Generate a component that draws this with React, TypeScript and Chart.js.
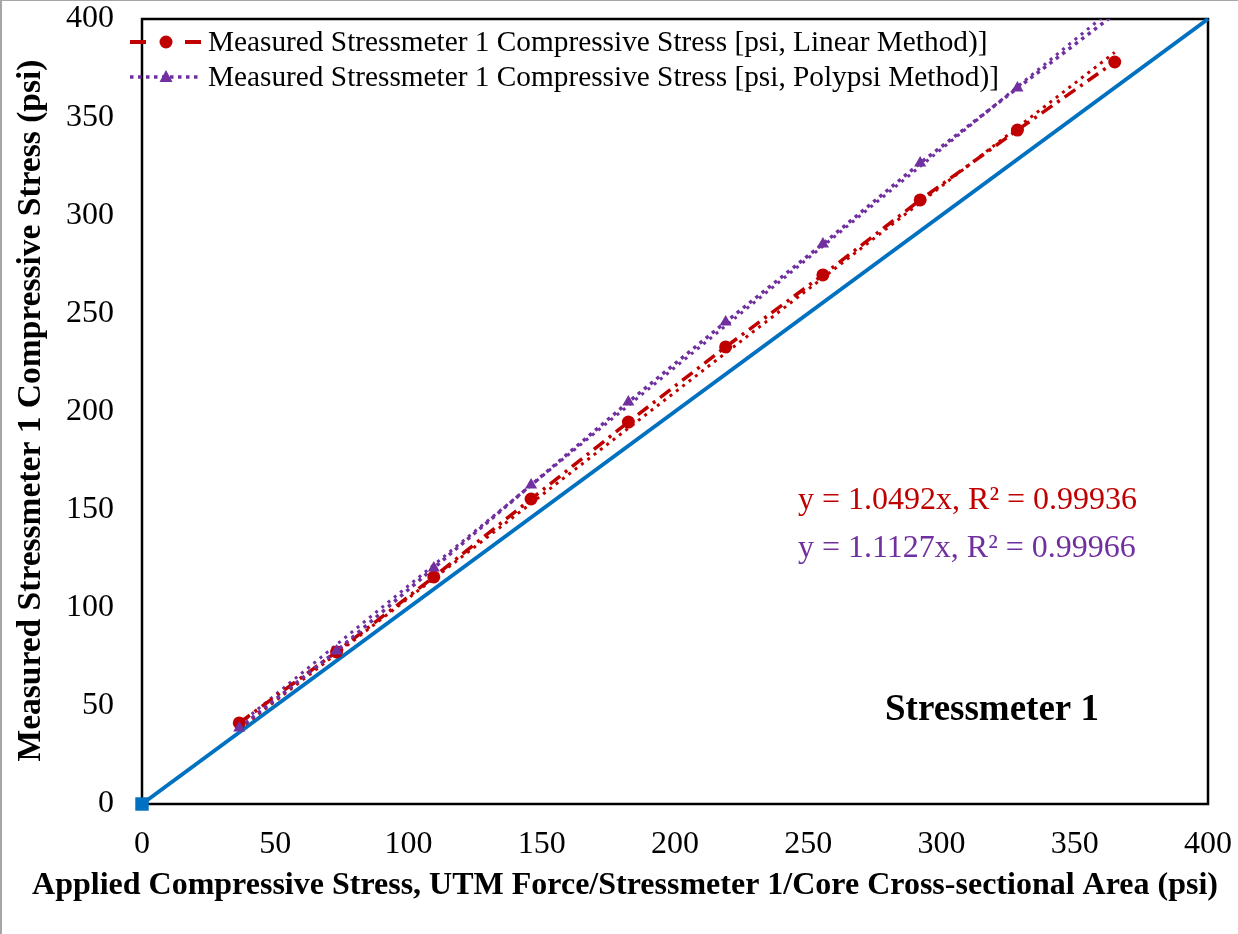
import React, { useEffect, useRef } from "react";
import { Chart, registerables } from "chart.js";

Chart.register(...registerables);

const FONT = "'Liberation Serif', 'Times New Roman', Times, serif";
const RED = "#C00000";
const PURPLE = "#7030A0";
const BLUE = "#0070C0";

// Applied compressive stress (psi) — x values
const appliedStress = [36.5, 73, 109.5, 146, 182.5, 219, 255.5, 292, 328.5, 365];
// Measured stress, linear method (psi)
const linearMethod = [41.3, 77.5, 115.7, 155.4, 194.6, 232.9, 269.6, 307.8, 343.4, 378.1];
// Measured stress, polypsi method (psi)
const polypsiMethod = [38.7, 78.0, 120.3, 162.5, 204.8, 245.6, 285.4, 326.6, 364.8, 402.5];
// Linear trendlines (through origin) over the data range
const trendX = [36.5, 365];
const trendLinear = [38.3, 383.0];
const trendPolypsi = [40.6, 406.1];
// 1:1 reference line
const identityX = [0, 400];
const identityY = [0, 400];

const legendLabels = [
  "Measured Stressmeter 1 Compressive Stress [psi, Linear Method)]",
  "Measured Stressmeter 1 Compressive Stress [psi, Polypsi Method)]",
];
const equations = ["y = 1.0492x, R\u00B2 = 0.99936", "y = 1.1127x, R\u00B2 = 0.99966"];
const panelLabel = "Stressmeter 1";
const xTitle = "Applied Compressive Stress, UTM Force/Stressmeter 1/Core Cross-sectional Area (psi)";
const yTitle = "Measured Stressmeter 1 Compressive Stress (psi)";

const W = 1238;
const H = 934;

function pts(xs: number[], ys: number[]) {
  return xs.map((x, i) => ({ x, y: ys[i] }));
}

const decorPlugin = {
  id: "decor",
  beforeDraw(chart: any) {
    const ctx = chart.ctx;
    ctx.save();
    ctx.fillStyle = "#ffffff";
    ctx.fillRect(0, 0, W, H);
    ctx.fillStyle = "#A6A6A6";
    ctx.fillRect(0, 0, W, 1);
    ctx.fillRect(0, 0, 2, H);
    ctx.restore();
  },
  beforeDatasetsDraw(chart: any) {
    const { ctx, chartArea: a } = chart;
    ctx.save();
    ctx.strokeStyle = "#000000";
    ctx.lineWidth = 2.5;
    ctx.strokeRect(a.left, a.top, a.right - a.left, a.bottom - a.top);
    ctx.restore();
  },
  afterDraw(chart: any) {
    const ctx = chart.ctx;
    ctx.save();
    // legend row 1
    ctx.strokeStyle = RED;
    ctx.lineWidth = 4;
    ctx.setLineDash([]);
    ctx.beginPath();
    ctx.moveTo(130, 42);
    ctx.lineTo(146, 42);
    ctx.moveTo(185, 42);
    ctx.lineTo(201, 42);
    ctx.stroke();
    ctx.fillStyle = RED;
    ctx.beginPath();
    ctx.arc(166, 42, 6.5, 0, Math.PI * 2);
    ctx.fill();
    // legend row 2
    ctx.strokeStyle = PURPLE;
    ctx.lineWidth = 3.5;
    ctx.setLineDash([3.5, 4.5]);
    ctx.beginPath();
    ctx.moveTo(130, 77);
    ctx.lineTo(201, 77);
    ctx.stroke();
    ctx.setLineDash([]);
    ctx.fillStyle = PURPLE;
    ctx.beginPath();
    ctx.moveTo(166, 70);
    ctx.lineTo(172.5, 82);
    ctx.lineTo(159.5, 82);
    ctx.closePath();
    ctx.fill();

    ctx.fillStyle = "#000000";
    ctx.textBaseline = "alphabetic";
    ctx.textAlign = "left";
    ctx.font = `29.3px ${FONT}`;
    ctx.fillText(legendLabels[0], 208, 51);
    ctx.fillText(legendLabels[1], 208, 86);

    // equations
    ctx.font = `32px ${FONT}`;
    ctx.fillStyle = RED;
    ctx.fillText(equations[0], 798, 509);
    ctx.fillStyle = PURPLE;
    ctx.fillText(equations[1], 798, 557);

    // panel label
    ctx.fillStyle = "#000000";
    ctx.font = `bold 37px ${FONT}`;
    ctx.fillText(panelLabel, 885, 720);

    // x title
    ctx.font = `bold 32px ${FONT}`;
    ctx.textAlign = "center";
    ctx.fillText(xTitle, 625, 894);

    // y title
    ctx.font = `bold 33.5px ${FONT}`;
    ctx.translate(40, 410.5);
    ctx.rotate(-Math.PI / 2);
    ctx.fillText(yTitle, 0, 0);
    ctx.restore();
  },
};

export default function App() {
  const ref = useRef<HTMLCanvasElement | null>(null);

  useEffect(() => {
    document.body.style.margin = "0";
    const canvas = ref.current!;
    const chart = new Chart(canvas, {
      type: "scatter",
      data: {
        datasets: [
          {
            label: legendLabels[0],
            data: pts(appliedStress, linearMethod),
            showLine: true,
            borderColor: RED,
            backgroundColor: RED,
            borderWidth: 3.5,
            borderDash: [13, 6, 3, 6],
            pointStyle: "circle",
            pointRadius: 6.5,
            pointBorderWidth: 0,
            order: 2,
          },
          {
            label: legendLabels[1],
            data: pts(appliedStress, polypsiMethod),
            showLine: true,
            borderColor: PURPLE,
            backgroundColor: PURPLE,
            borderWidth: 3.5,
            borderDash: [3.5, 4.5],
            pointStyle: "triangle",
            pointRadius: 7,
            pointBorderWidth: 0,
            order: 1,
          },
          {
            label: "Linear trend",
            data: pts(trendX, trendLinear),
            showLine: true,
            borderColor: RED,
            borderWidth: 3,
            borderDash: [3, 5],
            pointRadius: 0,
            order: 3,
          },
          {
            label: "Polypsi trend",
            data: pts(trendX, trendPolypsi),
            showLine: true,
            borderColor: PURPLE,
            borderWidth: 3,
            borderDash: [3, 5],
            pointRadius: 0,
            order: 3,
          },
          {
            label: "1:1",
            data: pts(identityX, identityY),
            showLine: true,
            borderColor: BLUE,
            backgroundColor: BLUE,
            borderWidth: 4,
            pointStyle: "rect",
            pointRadius: [9.5, 0],
            pointBorderWidth: 0,
            clip: false,
            order: 4,
          },
        ],
      },
      options: {
        responsive: false,
        animation: false,
        devicePixelRatio: 1,
        layout: { padding: { left: 0, top: 19, right: 30, bottom: 0 } },
        plugins: {
          legend: { display: false },
          tooltip: { enabled: false },
        },
        scales: {
          x: {
            type: "linear",
            min: 0,
            max: 400,
            grid: { display: false, drawTicks: true, tickLength: 23 },
            border: { display: false },
            ticks: {
              stepSize: 50,
              padding: 0,
              color: "#000000",
              font: { family: FONT, size: 32, lineHeight: 1.1 },
              maxRotation: 0,
            },
            afterFit(scale: any) {
              scale.height = 130;
            },
          },
          y: {
            type: "linear",
            min: 0,
            max: 400,
            grid: { display: false, drawTicks: true, tickLength: 28 },
            border: { display: false },
            ticks: {
              stepSize: 50,
              padding: 0,
              color: "#000000",
              font: { family: FONT, size: 32, lineHeight: 1.1 },
            },
            afterFit(scale: any) {
              scale.width = 142;
            },
          },
        },
      },
      plugins: [decorPlugin],
    } as any);
    return () => chart.destroy();
  }, []);

  return (
    <div style={{ width: W, height: H }}>
      <canvas ref={ref} width={W} height={H} style={{ display: "block", width: W, height: H }} />
    </div>
  );
}
